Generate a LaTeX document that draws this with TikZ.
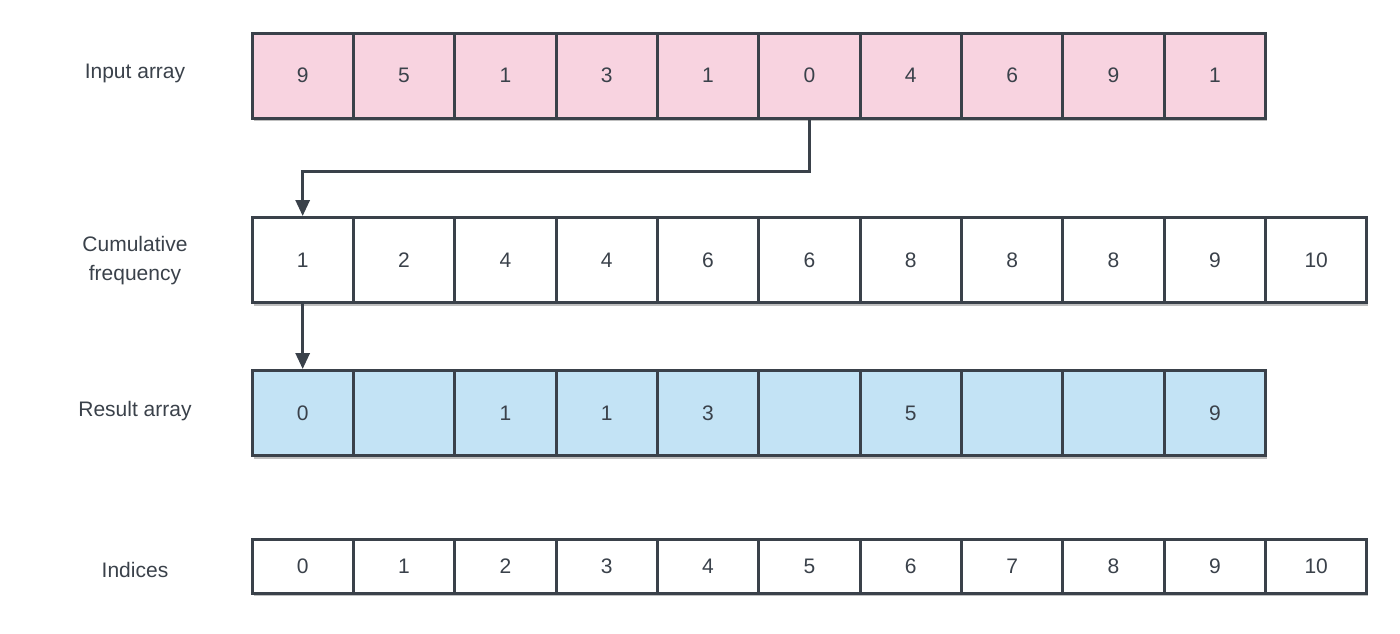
\documentclass[tikz,border=0pt]{standalone}
\usepackage{fontspec}
\setmainfont{Liberation Sans}
\usetikzlibrary{arrows.meta,shadows}
\definecolor{edge}{HTML}{3A414A}
\definecolor{pinkfill}{HTML}{F8D3E0}
\definecolor{bluefill}{HTML}{C3E3F5}
\definecolor{txt}{HTML}{3A414A}
\tikzset{
  cell/.style={draw=edge, line width=3pt, minimum width=101.35pt, inner sep=0pt,
    font=\fontsize{21}{24}\selectfont, text=txt,
    drop shadow={shadow xshift=1.5pt, shadow yshift=-3pt, fill=black, opacity=0.25}},
  tallcell/.style={cell, minimum height=85pt},
  shortcell/.style={cell, minimum height=54pt},
  incell/.style={tallcell, fill=pinkfill},
  cfcell/.style={tallcell, fill=white},
  rescell/.style={tallcell, fill=bluefill},
  idxcell/.style={shortcell, fill=white},
  rowlabel/.style={font=\fontsize{21}{29}\selectfont, text=txt, align=center},
  flow/.style={draw=edge, line width=3pt, -{Triangle[length=16pt,width=14pt]}}
}
\begin{document}
\begin{tikzpicture}[x=1pt,y=-1pt]
\useasboundingbox (0,0) rectangle (1400,633);
% labels
\node[rowlabel] (lin) at (135,73) {Input array};
\node[rowlabel] (lcf) at (135,261) {Cumulative\\frequency};
\node[rowlabel] (lres) at (135,411) {Result array};
\node[rowlabel] (lidx) at (135,570) {Indices};
% input array
\foreach \v [count=\i from 0] in {9,5,1,3,1,0,4,6,9,1} {
  \node[incell] (in\i) at ({252+101.35*(\i+0.5)},75.5) {\v};
}
% cumulative frequency
\foreach \v [count=\i from 0] in {1,2,4,4,6,6,8,8,8,9,10} {
  \node[cfcell] (cf\i) at ({252+101.35*(\i+0.5)},260) {\v};
}
% result array
\foreach \v [count=\i from 0] in {0,{},1,1,3,{},5,{},{},9} {
  \node[rescell] (res\i) at ({252+101.35*(\i+0.5)},413) {\v};
}
% indices
\foreach \v [count=\i from 0] in {0,1,2,3,4,5,6,7,8,9,10} {
  \node[idxcell] (idx\i) at ({252+101.35*(\i+0.5)},566) {\v};
}
% arrows
\draw[flow] (in5.south) -- ++(0,52) -| (cf0.north);
\draw[flow] (cf0.south) -- (res0.north);
\end{tikzpicture}
\end{document}
